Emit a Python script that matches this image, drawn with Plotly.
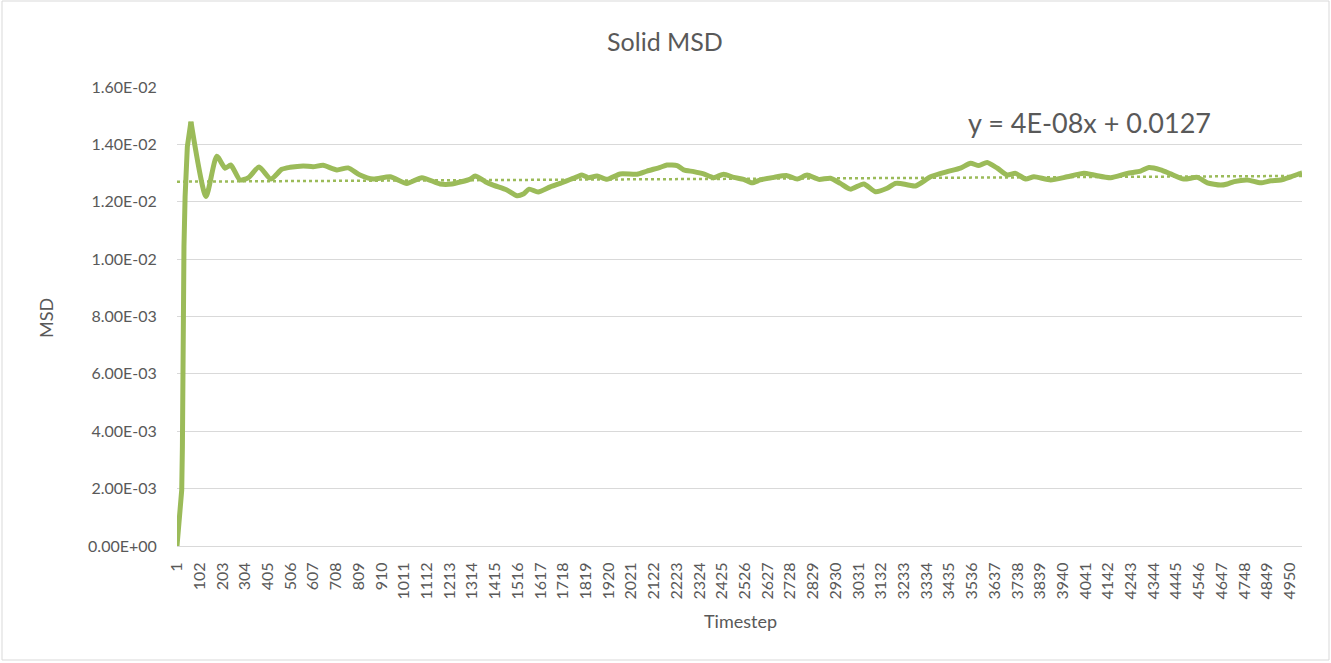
import plotly.graph_objects as go

# ---- data ----
timestep = [1, 5, 22, 25, 26, 29, 32, 37, 47, 63, 130, 178, 215, 240, 281, 317, 366, 418, 467, 504,
            562, 606, 651, 712, 762, 815, 873, 949, 1023, 1090, 1171, 1223, 1305, 1327, 1372, 1407,
            1468, 1513, 1541, 1567, 1607, 1661, 1705, 1780, 1802, 1830, 1869, 1913, 1972, 2047, 2091,
            2150, 2180, 2225, 2254, 2299, 2343, 2388, 2432, 2477, 2521, 2558, 2595, 2655, 2714, 2759,
            2803, 2855, 2907, 2951, 2996, 3055, 3107, 3159, 3196, 3218, 3285, 3352, 3426, 3485, 3530,
            3567, 3604, 3649, 3693, 3730, 3775, 3812, 3886, 3960, 4034, 4079, 4153, 4227, 4286, 4323,
            4375, 4420, 4479, 4539, 4583, 4642, 4672, 4702, 4761, 4820, 4865, 4909, 4954, 4998, 5004]
msd = [0.0, 0.0004, 0.00195, 0.00346, 0.00579, 0.00812, 0.01043, 0.01218, 0.01392, 0.01479, 0.01218,
       0.01359, 0.01317, 0.01328, 0.01276, 0.01283, 0.01321, 0.01279, 0.01313, 0.01320, 0.01325,
       0.01322, 0.01327, 0.01311, 0.01318, 0.01293, 0.01279, 0.01287, 0.01264, 0.01284, 0.01262,
       0.01262, 0.01279, 0.01290, 0.01270, 0.01258, 0.01241, 0.01221, 0.01227, 0.01244, 0.01234,
       0.01252, 0.01264, 0.01287, 0.01293, 0.01284, 0.01290, 0.01278, 0.01297, 0.01296, 0.01307,
       0.01320, 0.01328, 0.01326, 0.01311, 0.01305, 0.01297, 0.01284, 0.01296, 0.01285, 0.01278,
       0.01266, 0.01276, 0.01285, 0.01291, 0.01279, 0.01293, 0.01278, 0.01282, 0.01264, 0.01244,
       0.01262, 0.01235, 0.01247, 0.01264, 0.01264, 0.01255, 0.01287, 0.01305, 0.01317, 0.01334,
       0.01326, 0.01337, 0.01317, 0.01293, 0.01299, 0.01279, 0.01287, 0.01276, 0.01287, 0.01299,
       0.01293, 0.01284, 0.01299, 0.01307, 0.01319, 0.01311, 0.01297, 0.01279, 0.01285, 0.01266,
       0.01258, 0.01262, 0.01270, 0.01276, 0.01266, 0.01273, 0.01276, 0.01287, 0.01299, 0.01300]

trend_slope = 4e-08
trend_intercept = 0.0127
trend_label = "y = 4E-08x + 0.0127"

x_tick_labels = [str(v) for v in range(1, 5000, 101)]
y_tick_values = [0, 0.002, 0.004, 0.006, 0.008, 0.010, 0.012, 0.014, 0.016]
y_tick_labels = ["0.00E+00", "2.00E-03", "4.00E-03", "6.00E-03", "8.00E-03",
                 "1.00E-02", "1.20E-02", "1.40E-02", "1.60E-02"]

title = "Solid MSD"
x_title = "Timestep"
y_title = "MSD"

# ---- figure ----
GREEN = "#9BBB59"
TXT = "#595959"
FONT = "Lato"

x_end = timestep[-1]
trend_x = [timestep[0], x_end]
trend_y = [trend_intercept + trend_slope * t for t in trend_x]

peak = msd.index(max(msd))

fig = go.Figure()
# trend line underneath
fig.add_trace(go.Scatter(x=trend_x, y=trend_y, mode="lines",
                         line=dict(color=GREEN, width=2.5, dash="dot"), showlegend=False,
                         name="trend"))
# steep initial rise (straight segments)
fig.add_trace(go.Scatter(x=timestep[:peak + 1], y=msd[:peak + 1], mode="lines",
                         line=dict(color=GREEN, width=5), showlegend=False, name="MSD"))
# rest of the series (smoothed)
fig.add_trace(go.Scatter(x=timestep[peak:], y=msd[peak:], mode="lines",
                         line=dict(color=GREEN, width=5, shape="spline", smoothing=0.6),
                         showlegend=False, name="MSD"))

fig.update_layout(
    width=1331, height=663,
    margin=dict(l=177, r=29, t=87, b=117),
    paper_bgcolor="white", plot_bgcolor="white",
    font=dict(family=FONT, color=TXT, size=16),
    title=dict(text=title, x=665 / 1331, xref="container", y=1 - 42 / 663, yref="container",
               xanchor="center", yanchor="middle", font=dict(size=25, color=TXT, family=FONT)),
)
fig.update_xaxes(
    range=[1, x_end], tickmode="array",
    tickvals=[int(s) for s in x_tick_labels], ticktext=x_tick_labels,
    tickangle=-90, showgrid=False, zeroline=False,
    showline=True, linecolor="#D9D9D9", linewidth=1,
    ticks="outside", ticklen=9, tickcolor="rgba(0,0,0,0)",
    tickfont=dict(size=16, color=TXT, family=FONT),
)
fig.update_yaxes(
    range=[0, 0.016], tickmode="array", tickvals=y_tick_values, ticktext=y_tick_labels,
    showgrid=True, gridcolor="#D9D9D9", gridwidth=1, zeroline=False, showline=False,
    ticks="outside", ticklen=16, tickcolor="rgba(0,0,0,0)",
    tickfont=dict(size=16, color=TXT, family=FONT),
)

fig.add_annotation(text=trend_label, xref="paper", yref="paper", x=(1089 - 177) / 1125,
                   y=(546 - 122) / 459, showarrow=False, xanchor="center", yanchor="middle",
                   font=dict(size=27, color=TXT, family=FONT))
fig.add_annotation(text=y_title, xref="paper", yref="paper", x=(46 - 177) / 1125,
                   y=(546 - 318) / 459, showarrow=False, textangle=-90,
                   xanchor="center", yanchor="middle", font=dict(size=18, color=TXT, family=FONT))
fig.add_annotation(text=x_title, xref="paper", yref="paper", x=(740 - 177) / 1125,
                   y=(546 - 621) / 459, showarrow=False, xanchor="center", yanchor="middle",
                   font=dict(size=18, color=TXT, family=FONT))

# outer chart border
fig.add_shape(type="rect", xref="paper", yref="paper",
              x0=(2 - 177) / 1125, x1=(1329 - 177) / 1125,
              y0=(546 - 660) / 459, y1=(546 - 1) / 459,
              line=dict(color="#D9D9D9", width=1), fillcolor="rgba(0,0,0,0)", layer="below")

fig.write_html("out.html", config={"displayModeBar": False},
               post_script="document.body.style.margin='0';document.body.style.overflow='hidden';")
